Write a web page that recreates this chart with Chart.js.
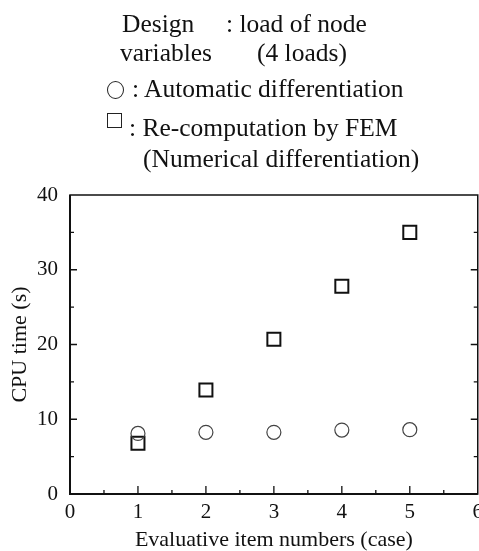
<!DOCTYPE html>
<html><head><meta charset="utf-8">
<script src="https://cdn.jsdelivr.net/npm/chart.js@4/dist/chart.umd.min.js"></script>
<style>
html,body{margin:0;padding:0;background:#fff;}
#wrap{position:relative;width:479px;height:551px;overflow:hidden;}
canvas{position:absolute;left:0;top:0;}
.t{position:absolute;font-family:"Liberation Serif","Times New Roman",serif;font-size:25.5px;line-height:26px;color:#111;white-space:nowrap;}
.sym{position:absolute;box-sizing:border-box;border:1.6px solid #222;}
</style></head>
<body>
<div id="wrap">
<canvas id="c" width="489" height="551"></canvas>
<div class="t" style="left:122px;top:11px">Design</div>
<div class="t" style="left:226px;top:11px">: load of node</div>
<div class="t" style="left:120px;top:40px">variables</div>
<div class="t" style="left:257px;top:40px">(4 loads)</div>
<div class="sym" style="left:107px;top:81px;width:17px;height:18px;border-radius:50%"></div>
<div class="t" style="left:132px;top:76px">: Automatic differentiation</div>
<div class="sym" style="left:107px;top:113px;width:15px;height:15px;"></div>
<div class="t" style="left:129px;top:115px">: Re-computation by FEM</div>
<div class="t" style="left:143px;top:146px">(Numerical differentiation)</div>
</div>
<script>
const cases = [1, 2, 3, 4, 5];
const autoDiff = [8.1, 8.25, 8.25, 8.55, 8.6];
const femRecomp = [6.8, 13.9, 20.7, 27.8, 35.0];
const xTicks = [0, 1, 2, 3, 4, 5, 6];
const yTicks = [0, 10, 20, 30, 40];
const xTitle = 'Evaluative item numbers (case)';
const yTitle = 'CPU time (s)';

const FONT = '"Liberation Serif","Times New Roman",serif';

const framePlugin = {
  id: 'frame',
  afterDatasetsDraw(chart) {
    const {ctx, chartArea: a, scales: {x, y}} = chart;
    ctx.save();
    ctx.strokeStyle = '#111';
    ctx.lineWidth = 1.5;
    ctx.strokeRect(a.left, a.top, a.right - a.left, a.bottom - a.top);
    ctx.lineWidth = 2;
    ctx.beginPath();
    ctx.moveTo(a.left, a.top); ctx.lineTo(a.left, a.bottom); ctx.lineTo(a.right, a.bottom);
    ctx.stroke();
    ctx.lineWidth = 1.3;
    ctx.beginPath();
    for (let v = 0.5; v < 6; v += 0.5) {
      const px = x.getPixelForValue(v);
      const len = Number.isInteger(v) ? 8 : 4;
      ctx.moveTo(px, a.bottom); ctx.lineTo(px, a.bottom - len);
    }
    for (let v = 5; v < 40; v += 5) {
      const py = y.getPixelForValue(v);
      const len = v % 10 === 0 ? 7 : 4;
      ctx.moveTo(a.left, py); ctx.lineTo(a.left + len, py);
      ctx.moveTo(a.right, py); ctx.lineTo(a.right - len, py);
    }
    ctx.stroke();
    ctx.restore();
  }
};

new Chart(document.getElementById('c'), {
  type: 'scatter',
  data: {
    datasets: [
      {
        label: 'Automatic differentiation',
        data: cases.map((c, i) => ({x: c, y: autoDiff[i]})),
        pointStyle: 'circle', pointRadius: 7, pointBorderWidth: 1.2,
        borderColor: '#444', backgroundColor: 'rgba(0,0,0,0)'
      },
      {
        label: 'Re-computation by FEM',
        data: cases.map((c, i) => ({x: c, y: femRecomp[i]})),
        pointStyle: 'rect', pointRadius: 9.2, pointBorderWidth: 2,
        borderColor: '#111', backgroundColor: 'rgba(0,0,0,0)'
      }
    ]
  },
  options: {
    responsive: false,
    animation: false,
    layout: {padding: {top: 195, left: 0, right: 0, bottom: 0}},
    plugins: {legend: {display: false}, tooltip: {enabled: false}},
    scales: {
      x: {
        type: 'linear', min: 0, max: 6,
        afterBuildTicks: s => { s.ticks = xTicks.map(v => ({value: v})); },
        afterFit: s => { s.height = 57; },
        grid: {display: false, drawTicks: false},
        border: {display: false},
        ticks: {color: '#111', font: {family: FONT, size: 21}, padding: 6, maxRotation: 0, autoSkip: false},
        title: {display: true, text: xTitle, color: '#111', font: {family: FONT, size: 22, lineHeight: 1}, padding: {top: 0, bottom: 0}}
      },
      y: {
        type: 'linear', min: 0, max: 40,
        afterBuildTicks: s => { s.ticks = yTicks.map(v => ({value: v})); },
        afterFit: s => { s.width = 70; },
        grid: {display: false, drawTicks: false},
        border: {display: false},
        ticks: {color: '#111', font: {family: FONT, size: 21}, padding: 12},
        title: {display: true, text: yTitle, color: '#111', font: {family: FONT, size: 22, lineHeight: 1}, padding: {top: 9, bottom: 0}}
      }
    }
  },
  plugins: [framePlugin]
});
</script>
</body></html>
